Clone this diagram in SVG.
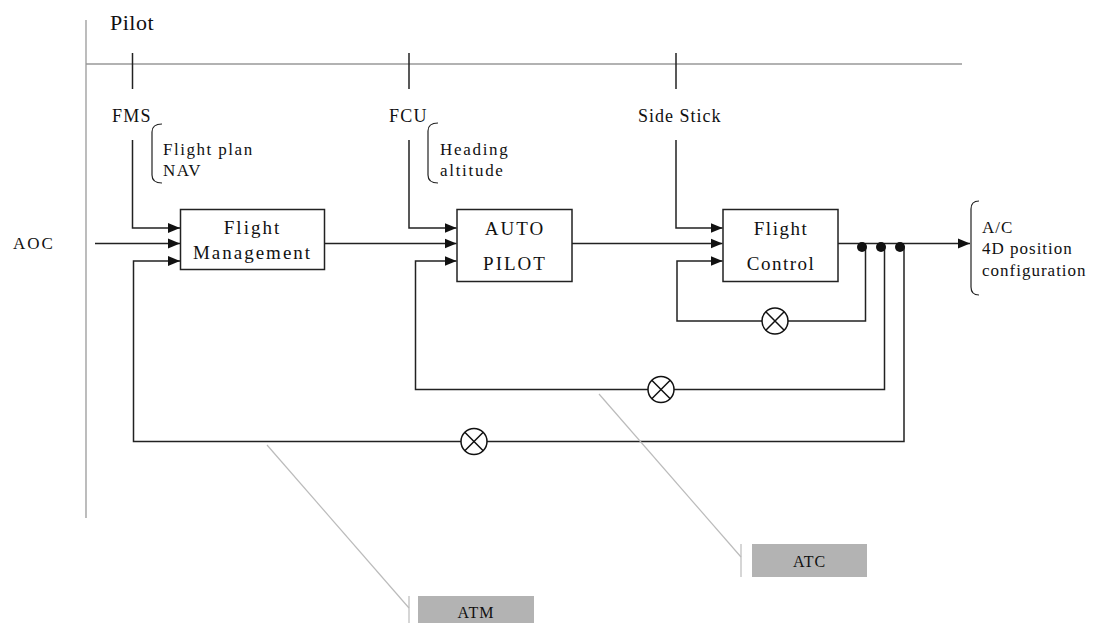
<svg xmlns="http://www.w3.org/2000/svg" width="1094" height="623" viewBox="0 0 1094 623">
<defs>
<style>
text{font-family:'Liberation Serif','DejaVu Serif','Times New Roman',serif;fill:#111}
.box{fill:#fff;stroke:#222;stroke-width:1.5}
.ln{fill:none;stroke:#222;stroke-width:1.5}
.gr{fill:none;stroke:#999;stroke-width:1.3}
.lg{fill:none;stroke:#bbb;stroke-width:1.2}
.br{fill:none;stroke:#222;stroke-width:1.2}
.tag{fill:#b3b3b3}
</style>
<marker id="ah" refX="12" refY="5.5" markerWidth="13" markerHeight="11" markerUnits="userSpaceOnUse" orient="auto">
<path d="M0,0.5 L12,5.5 L0,10.5 Z" fill="#111"/>
</marker>
<g id="mix">
<circle cx="0" cy="0" r="13" fill="#fff" stroke="#111" stroke-width="1.5"/>
<path d="M-9.2,-9.2 L9.2,9.2 M-9.2,9.2 L9.2,-9.2" stroke="#111" stroke-width="1.5"/>
</g>
</defs>
<rect width="1094" height="623" fill="#fff"/>

<g id="frame">
<line class="gr" x1="86" y1="20" x2="86" y2="518"/>
<line class="gr" x1="86" y1="64" x2="962" y2="64"/>
<text x="110" y="30" font-size="22" letter-spacing="0.5">Pilot</text>
<line class="ln" x1="132.5" y1="53" x2="132.5" y2="89"/>
<line class="ln" x1="409" y1="53" x2="409" y2="89"/>
<line class="ln" x1="676" y1="53" x2="676" y2="89"/>
</g>

<g id="fms-label">
<text x="112" y="122" font-size="18" letter-spacing="1.3">FMS</text>
<path class="br" d="M162,124 Q152,124 152,132 L152,175 Q152,183 162,183"/>
<text x="163" y="155" font-size="17" letter-spacing="1.5">Flight plan</text>
<text x="163" y="176" font-size="17" letter-spacing="1.5">NAV</text>
</g>

<g id="fcu-label">
<text x="389" y="122" font-size="18" letter-spacing="1.3">FCU</text>
<path class="br" d="M438,123 Q428,123 428,131 L428,175 Q428,183 438,183"/>
<text x="440" y="155" font-size="17" letter-spacing="1.7">Heading</text>
<text x="440" y="176" font-size="17" letter-spacing="1.7">altitude</text>
</g>

<g id="sidestick-label">
<text x="638" y="122" font-size="18" letter-spacing="1">Side Stick</text>
</g>

<g id="aoc">
<text x="13" y="249" font-size="17" letter-spacing="2">AOC</text>
</g>

<g id="flight-management">
<rect class="box" x="180.5" y="209.5" width="144" height="60"/>
<text x="252.5" y="234" font-size="19" letter-spacing="2" text-anchor="middle">Flight</text>
<text x="252.5" y="259" font-size="19" letter-spacing="2" text-anchor="middle">Management</text>
</g>

<g id="auto-pilot">
<rect class="box" x="457" y="209.5" width="115" height="72"/>
<text x="515" y="235" font-size="19" letter-spacing="2" text-anchor="middle">AUTO</text>
<text x="515" y="270" font-size="19" letter-spacing="2" text-anchor="middle">PILOT</text>
</g>

<g id="flight-control">
<rect class="box" x="723" y="209.5" width="115" height="72"/>
<text x="781" y="235" font-size="19" letter-spacing="1.5" text-anchor="middle">Flight</text>
<text x="781" y="270" font-size="19" letter-spacing="1.5" text-anchor="middle">Control</text>
</g>

<g id="ac-output">
<path class="br" d="M979,201 Q971,201 971,209 L971,287 Q971,295 979,295"/>
<text x="982" y="233" font-size="17" letter-spacing="1">A/C</text>
<text x="982" y="254" font-size="17" letter-spacing="1">4D position</text>
<text x="982" y="276" font-size="17" letter-spacing="1">configuration</text>
</g>

<g id="connectors">
<path class="ln" d="M132.5,140 L132.5,228 L180,228" marker-end="url(#ah)"/>
<path class="ln" d="M95,243.5 L180,243.5" marker-end="url(#ah)"/>
<path class="ln" d="M324.5,243.5 L456.5,243.5" marker-end="url(#ah)"/>
<path class="ln" d="M409,140 L409,228 L456.5,228" marker-end="url(#ah)"/>
<path class="ln" d="M572,243.5 L722.5,243.5" marker-end="url(#ah)"/>
<path class="ln" d="M676,140 L676,228 L722.5,228" marker-end="url(#ah)"/>
<path class="ln" d="M838,243.5 L970,243.5" marker-end="url(#ah)"/>
<path class="ln" d="M865.5,246 L865.5,321 L677,321 L677,261 L722.5,261" marker-end="url(#ah)"/>
<path class="ln" d="M884.5,246 L884.5,389.5 L415.5,389.5 L415.5,261 L456.5,261" marker-end="url(#ah)"/>
<path class="ln" d="M904,246 L904,441.5 L133.5,441.5 L133.5,261 L180,261" marker-end="url(#ah)"/>
<circle cx="862" cy="247" r="5" fill="#111"/>
<circle cx="881" cy="247" r="5" fill="#111"/>
<circle cx="900" cy="247" r="5" fill="#111"/>
<use href="#mix" x="775" y="321"/>
<use href="#mix" x="661" y="389.5"/>
<use href="#mix" x="474" y="441.5"/>
</g>

<g id="atc">
<line class="lg" x1="599" y1="394" x2="741" y2="557"/>
<line class="lg" x1="741" y1="544" x2="741" y2="577"/>
<rect class="tag" x="752" y="544" width="115" height="33"/>
<text x="809.5" y="567" font-size="16" letter-spacing="1" text-anchor="middle">ATC</text>
</g>

<g id="atm">
<line class="lg" x1="267" y1="445" x2="409" y2="608"/>
<line class="lg" x1="409" y1="596" x2="409" y2="623"/>
<rect class="tag" x="418" y="596" width="116" height="30"/>
<text x="476" y="618" font-size="16" letter-spacing="1" text-anchor="middle">ATM</text>
</g>
</svg>
